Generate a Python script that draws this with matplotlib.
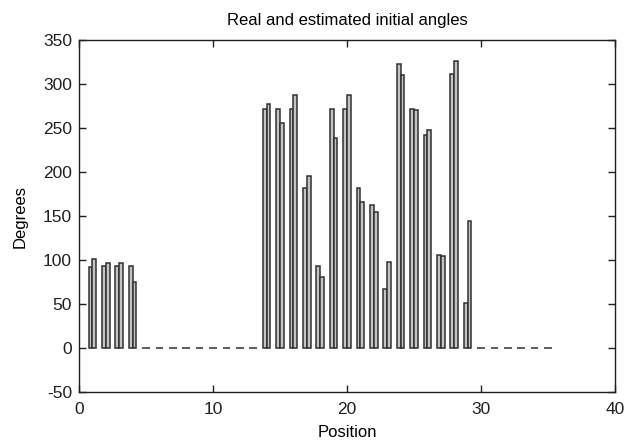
import numpy as np
import matplotlib
matplotlib.use('Agg')
import matplotlib.pyplot as plt

plt.rcParams['font.family'] = ['Liberation Sans', 'DejaVu Sans']
plt.rcParams['axes.unicode_minus'] = False

# 위치별 실제 / 추정 초기 각도 (deg)
positions = list(range(1, 36))
real_angles = [92, 93, 93, 93,
               0, 0, 0, 0, 0, 0, 0, 0, 0,
               272, 272, 272, 182, 93, 272, 272, 182, 162, 67, 323,
               272, 242, 106, 311, 51,
               0, 0, 0, 0, 0, 0]
est_angles = [101, 97, 97, 75,
              0, 0, 0, 0, 0, 0, 0, 0, 0,
              277, 256, 288, 195, 81, 239, 288, 166, 154, 98, 310,
              270, 248, 104, 326, 144,
              0, 0, 0, 0, 0, 0]

xticks = [0, 10, 20, 30, 40]
yticks = [-50, 0, 50, 100, 150, 200, 250, 300, 350]

fig = plt.figure(figsize=(6.26, 4.46), dpi=100)
ax = fig.add_axes([79 / 626, 54 / 446, 536 / 626, 352 / 446])

x = np.array(positions, dtype=float)
w = 0.28
bar_style = dict(width=w, facecolor='#c4c4c4', edgecolor='#303030', linewidth=1.1)
ax.bar(x - w / 2, real_angles, **bar_style)
ax.bar(x + w / 2, est_angles, **bar_style)

ax.set_xlim(0, 40)
ax.set_ylim(-50, 350)
ax.set_xticks(xticks)
ax.set_yticks(yticks)
ax.tick_params(direction='in', length=5, width=1, top=True, right=True,
               labelsize=12.5, colors='#202020')
ax.tick_params(axis='x', pad=7)
ax.tick_params(axis='y', pad=5)
for s in ax.spines.values():
    s.set_linewidth(1.0)
    s.set_color('#202020')

ax.set_title('Real and estimated initial angles', fontsize=12, pad=11)
ax.set_xlabel('Position', fontsize=12, labelpad=6)
ax.set_ylabel('Degrees', fontsize=12, labelpad=11)

fig.savefig('out.png', dpi=100)
